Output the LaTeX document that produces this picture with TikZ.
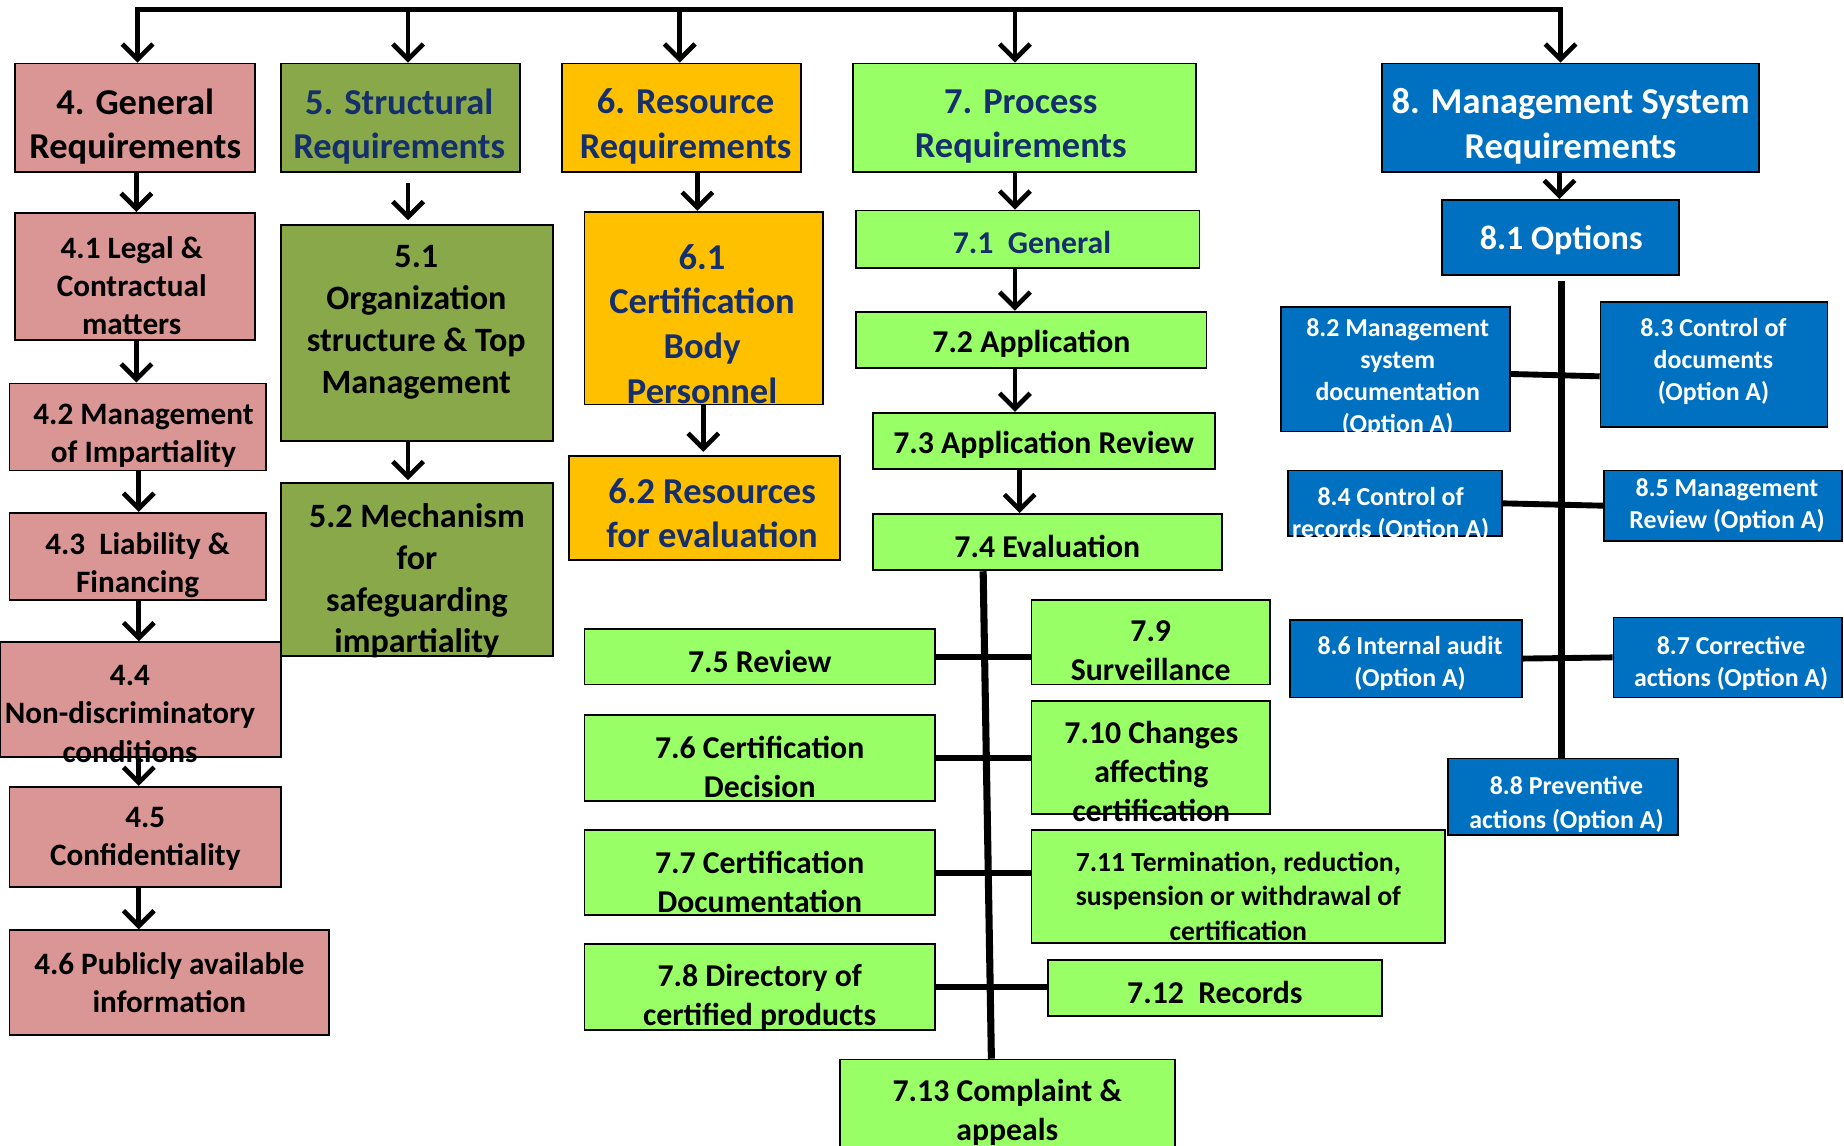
\documentclass[tikz,border=0pt]{standalone}
\usepackage{fontspec}
\setmainfont{Carlito}
\usetikzlibrary{arrows.meta,calc}
\definecolor{pinkc}{HTML}{D99694}
\definecolor{olivec}{HTML}{89A84A}
\definecolor{orangec}{HTML}{FFC000}
\definecolor{greenc}{HTML}{99FF66}
\definecolor{bluec}{HTML}{0070C0}
\definecolor{navyc}{HTML}{142F6B}
\newcommand\bx[9]{%
  \pgfmathsetmacro\bxw{#4-#3}\pgfmathsetmacro\bxh{#6-#5}%
  \pgfmathsetmacro\bxx{(#3+#4)/2}\pgfmathsetmacro\bxy{(#5+#6)/2}%
  \pgfmathsetmacro\bxty{#8+2.5}%
  \node[box,#2,minimum width=\bxw pt,minimum height=\bxh pt] (#1) at (\bxx,\bxy) {};
  \node[#2,fill=none,draw=none,inner sep=0pt,align=center] (#1t) at (#7,\bxty) {#9};
}
\begin{document}
\begin{tikzpicture}[x=1pt,y=-1pt,
  box/.style={draw=black,line width=1.5pt,inner sep=0pt},
  pkbox/.style={fill=pinkc,text=black},
  olbox/.style={fill=olivec,text=black},
  orbox/.style={fill=orangec,text=navyc},
  grbox/.style={fill=greenc,text=black},
  blbox/.style={fill=bluec,text=white},
  ftitle/.style={font=\fontsize{31}{38}\selectfont\bfseries},
  fsub/.style={font=\fontsize{26.5}{32.5}\selectfont\bfseries},
  ffive/.style={font=\fontsize{29}{35.5}\selectfont\bfseries},
  fseven/.style={font=\fontsize{27}{33}\selectfont\bfseries},
  fsmall/.style={font=\fontsize{23.5}{29.5}\selectfont\bfseries},
  feight/.style={font=\fontsize{22}{27}\selectfont\bfseries},
  feightb/.style={font=\fontsize{22}{28.5}\selectfont\bfseries},
  fopt/.style={font=\fontsize{29}{35}\selectfont\bfseries},
  arr/.style={line width=4pt,-{Straight Barb[length=13pt,width=26pt]}},
  arrtwo/.style={line width=4pt,line join=miter,{Straight Barb[length=13pt,width=26pt]}-{Straight Barb[length=13pt,width=26pt]}},
  spine/.style={line width=6pt},
  link/.style={line width=5pt}]
\fill[white] (0,0) rectangle (1568,974);
\useasboundingbox (0,0) rectangle (1568,974);

% column 4
\bx{n4}{pkbox,ftitle}{13}{217}{54}{146}{115}{105}{4. General\\Requirements}
\bx{n41}{pkbox,fsub}{13}{217}{181}{289}{112}{240.5}{4.1 Legal \&\\Contractual\\matters}
\bx{n42}{pkbox,fsub}{8}{226}{326}{400}{122}{368}{4.2 Management\\of Impartiality}
\bx{n43}{pkbox,fsub}{8}{226}{436}{510}{117}{478}{4.3\ \ Liability \&\\Financing}
\bx{n44}{pkbox,fsub}{0}{239}{546}{644}{110.5}{604.5}{4.4\\Non-discriminatory\\conditions}
\bx{n45}{pkbox,fsub}{8}{239}{669}{754}{123.5}{710.5}{4.5\\Confidentiality}
\bx{n46}{pkbox,fsub}{8}{280}{791}{880}{144}{833}{4.6 Publicly available\\information}
% column 5
\bx{n5}{olbox,ftitle,text=navyc}{239}{442}{54}{146}{339.5}{105}{5. Structural\\Requirements}
\bx{n51}{olbox,ffive}{239}{470}{191}{375}{354}{271.5}{5.1\\Organization\\structure \& Top\\Management}
\bx{n52}{olbox,ffive}{239}{470}{411}{558}{354.5}{491.5}{5.2 Mechanism\\for\\safeguarding\\impartiality}
% column 6
\bx{n6}{orbox,ftitle}{478}{681}{54}{146}{583}{105}{6. Resource\\Requirements}
\bx{n61}{orbox,ftitle}{497}{700}{180}{344}{597}{273}{6.1\\Certification\\Body\\Personnel}
\bx{n62}{orbox,ftitle}{484}{714}{388}{476}{605.5}{434}{6.2 Resources\\for evaluation}
% column 7
\bx{n7}{grbox,ftitle,text=navyc}{725}{1017}{54}{146}{868}{105}{7. Process\\Requirements}
\bx{n71}{grbox,fseven,text=navyc}{728}{1020}{179}{228}{877.5}{204}{7.1\ \ General}
\bx{n72}{grbox,fseven}{728}{1026}{265}{313}{877}{290}{7.2 Application}
\bx{n73}{grbox,fseven}{742}{1033}{351}{399}{887.5}{376}{7.3 Application Review}
\bx{n74}{grbox,fseven}{742}{1039}{437}{485}{890.5}{462}{7.4 Evaluation}
\bx{n75}{grbox,fseven}{497}{795}{535}{582}{646}{560}{7.5 Review}
\bx{n79}{grbox,fseven}{877}{1080}{510}{582}{978.5}{551}{7.9\\Surveillance}
\bx{n76}{grbox,fseven}{497}{795}{608}{681}{646}{649.5}{7.6 Certification\\Decision}
\bx{n710}{grbox,fseven}{877}{1080}{596}{692}{979}{653.5}{7.10 Changes\\affecting\\certification}
\bx{n77}{grbox,fseven}{497}{795}{706}{778}{646}{747.5}{7.7 Certification\\Documentation}
\bx{n711}{grbox,fsmall}{877}{1229}{706}{802}{1053}{759.5}{7.11 Termination, reduction,\\suspension or withdrawal of\\certification}
\bx{n78}{grbox,fseven}{497}{795}{803}{876}{646}{845.5}{7.8 Directory of\\certified products}
\bx{n712}{grbox,fseven}{891}{1175}{816}{864}{1033}{841}{7.12\ \ Records}
\bx{n713}{grbox,fseven}{714}{999}{901}{990}{856.5}{943.5}{7.13 Complaint \&\\appeals}
% column 8
\bx{n8}{blbox,ftitle}{1175}{1496}{54}{146}{1335.5}{105}{8. Management System\\Requirements}
\bx{n81}{blbox,fopt}{1226}{1428}{170}{234}{1327.5}{202}{8.1 Options}
\bx{n82}{blbox,feight}{1089}{1284}{261}{367}{1188.5}{318.5}{8.2 Management\\system\\documentation\\(Option A)}
\bx{n83}{blbox,feight}{1361}{1554}{257}{363}{1457}{305}{8.3 Control of\\documents\\(Option A)}
\bx{n84}{blbox,feight}{1095}{1277}{400}{456}{1182.5}{435}{8.4 Control of\\records (Option A)}
\bx{n85}{blbox,feight}{1364}{1566}{400}{460}{1468.5}{427.5}{8.5 Management\\Review (Option A)}
\bx{n86}{blbox,feight}{1097}{1294}{527}{593}{1199}{561.5}{8.6 Internal audit\\(Option A)}
\bx{n87}{blbox,feight}{1372}{1566}{525}{593}{1472}{561.5}{8.7 Corrective\\actions (Option A)}
\bx{n88}{blbox,feightb}{1231}{1427}{645}{710}{1332}{681.5}{8.8 Preventive\\actions (Option A)}

% coordinates for connector columns
\coordinate (t4) at (117,8);
\coordinate (t5) at (347,8);
\coordinate (t6) at (578,8);
\coordinate (t7) at (863,8);
\coordinate (t8) at (1327,8);
\coordinate (ca) at (116,0);
\coordinate (cb) at (118,0);
\coordinate (c5) at (347,0);
\coordinate (c6a) at (593,0);
\coordinate (c6b) at (598,0);
\coordinate (c7) at (863,0);
\coordinate (c7b) at (867,0);
\coordinate (c8) at (1326,0);
\coordinate (s7a) at (836,0);
\coordinate (s7b) at (843,0);
\coordinate (s8) at (1328,0);

% top distribution
\draw[arrtwo] (t4 |- n4.north) -- (t4) -- (t8) -- (t8 |- n8.north);
\draw[arr] (t5) -- (t5 |- n5.north);
\draw[arr] (t6) -- (t6 |- n6.north);
\draw[arr] (t7) -- (t7 |- n7.north);

% column 4 arrows
\draw[arr] (n4.south -| ca) -- (n41.north -| ca);
\draw[arr] (n41.south -| ca) -- (n42.north -| ca);
\draw[arr] (n42.south -| cb) -- (n43.north -| cb);
\draw[arr] (n43.south -| cb) -- (n44.north -| cb);
\draw[arr] (n44.south -| cb) -- (n45.north -| cb);
\draw[arr] (n45.south -| cb) -- (n46.north -| cb);
% column 5 arrows
\draw[arr,shorten <=9pt,shorten >=3pt] (n5.south -| c5) -- (n51.north -| c5);
\draw[arr,shorten >=2pt] (n51.south -| c5) -- (n52.north -| c5);
% column 6 arrows
\draw[arr] (n6.south -| c6a) -- (n61.north -| c6a);
\draw[arr,shorten >=3pt] (n61.south -| c6b) -- (n62.north -| c6b);
% column 7 arrows
\draw[arr] (n7.south -| c7) -- (n71.north -| c7);
\draw[arr] (n71.south -| c7) -- (n72.north -| c7);
\draw[arr] (n72.south -| c7) -- (n73.north -| c7);
\draw[arr] (n73.south -| c7b) -- (n74.north -| c7b);
% column 7 spine and branches
\draw[spine] (n74.south -| s7a) -- (n713.north -| s7b);
\draw[link] (n75.east) -- (n75.east -| n79.west);
\draw[link] (n76.east) -- (n76.east -| n710.west);
\draw[link] (n77.east) -- (n77.east -| n711.west);
\draw[link] (n78.east) -- (n78.east -| n712.west);
% column 8
\draw[arr] (n8.south -| c8) -- (n81.north -| c8);
\draw[spine,shorten <=4pt] (n81.south -| s8) -- (n88.north -| s8);
\draw[link] ([yshift=-4pt]n82.east) -- ([yshift=-10pt]n83.west);
\draw[link] (n84.east) -- (n85.west);
\draw[link] (n86.east) -- (n87.west);
\end{tikzpicture}
\end{document}
